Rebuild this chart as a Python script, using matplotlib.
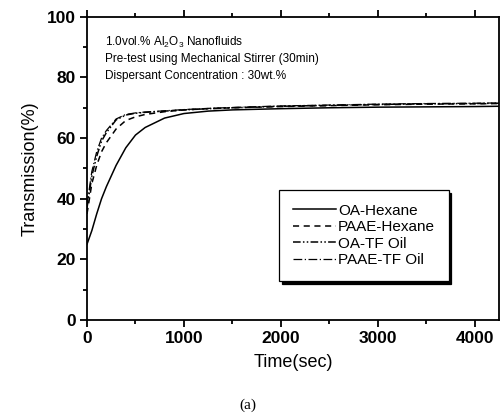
import numpy as np
import matplotlib
matplotlib.use('Agg')
import matplotlib.pyplot as plt
from matplotlib.ticker import MultipleLocator

plt.rcParams['font.family'] = ['Liberation Sans', 'DejaVu Sans']
plt.rcParams['mathtext.fontset'] = 'custom'
plt.rcParams['mathtext.rm'] = 'Liberation Sans'
plt.rcParams['mathtext.default'] = 'regular'

# data
time_s = [0, 50, 100, 150, 200, 300, 400, 500, 600, 800, 1000, 1250, 1500,
          2000, 2500, 3000, 3500, 4000, 4250]
oa_hexane = [25, 29.5, 35, 40, 44, 51, 56.8, 61, 63.5, 66.6, 68.1, 68.9, 69.3,
             69.7, 70, 70.2, 70.3, 70.4, 70.5]
paae_hexane = [35, 45, 51, 55.5, 58.5, 63, 65.8, 67, 67.8, 68.7, 69.3, 69.7, 70,
               70.4, 70.7, 71, 71.2, 71.3, 71.4]
oa_tf_oil = [37, 47.5, 54, 59, 61.8, 66, 67.6, 68.2, 68.5, 68.9, 69.3, 69.7, 70,
             70.5, 70.8, 71.1, 71.3, 71.4, 71.5]
paae_tf_oil = [38, 49, 55.5, 60, 62.5, 66.3, 67.8, 68.3, 68.6, 69, 69.4, 69.8, 70.1,
               70.6, 70.9, 71.2, 71.4, 71.5, 71.6]

fig = plt.figure(figsize=(5, 4.2), dpi=100)
ax = fig.add_axes([0.174, 0.238, 0.824, 0.722])

ax.plot(time_s, oa_hexane, color='black', lw=1.1, ls='-', label='OA-Hexane')
ax.plot(time_s, paae_hexane, color='black', lw=1.1, ls=(0, (4, 3)), label='PAAE-Hexane')
ax.plot(time_s, oa_tf_oil, color='black', lw=1.1, ls=(0, (5, 1.5, 1, 1.5, 1, 1.5)), label='OA-TF Oil')
ax.plot(time_s, paae_tf_oil, color='black', lw=0.9, ls=(0, (7, 2, 1, 2)), label='PAAE-TF Oil')

ax.set_xlim(0, 4250)
ax.set_ylim(0, 100)
ax.xaxis.set_major_locator(MultipleLocator(1000))
ax.xaxis.set_minor_locator(MultipleLocator(500))
ax.yaxis.set_major_locator(MultipleLocator(20))
ax.yaxis.set_minor_locator(MultipleLocator(10))
ax.tick_params(which='both', direction='out', width=1.3, top=True, right=False)
ax.tick_params(which='major', length=5, pad=3)
ax.tick_params(which='minor', length=3)
for lab in ax.get_xticklabels() + ax.get_yticklabels():
    lab.set_fontweight('bold')
    lab.set_fontsize(12.5)
for sp in ax.spines.values():
    sp.set_linewidth(1.3)

ax.set_xlabel('Time(sec)', fontsize=13, labelpad=6)
ax.set_ylabel('Transmission(%)', fontsize=13, labelpad=6)

ax.text(0.044, 0.917, '1.0vol.% Al$_2$O$_3$ Nanofluids', transform=ax.transAxes,
        fontsize=8.5, va='center')
ax.text(0.044, 0.861, 'Pre-test using Mechanical Stirrer (30min)', transform=ax.transAxes,
        fontsize=8.5, va='center')
ax.text(0.044, 0.805, 'Dispersant Concentration : 30wt.%', transform=ax.transAxes,
        fontsize=8.5, va='center')

leg = ax.legend(loc='upper left', bbox_to_anchor=(0.466, 0.429), fontsize=11,
                frameon=True, fancybox=False, shadow={'color': 'black', 'alpha': 1},
                edgecolor='black', handlelength=2.8, borderpad=0.9, labelspacing=0.16,
                handletextpad=0.15, borderaxespad=0)
leg.get_frame().set_linewidth(0.9)
leg.get_frame().set_alpha(1)

fig.text(0.496, 0.036, '(a)', fontsize=11, family='Liberation Serif', ha='center', va='center')

fig.savefig('out.png', dpi=100, facecolor='white')
